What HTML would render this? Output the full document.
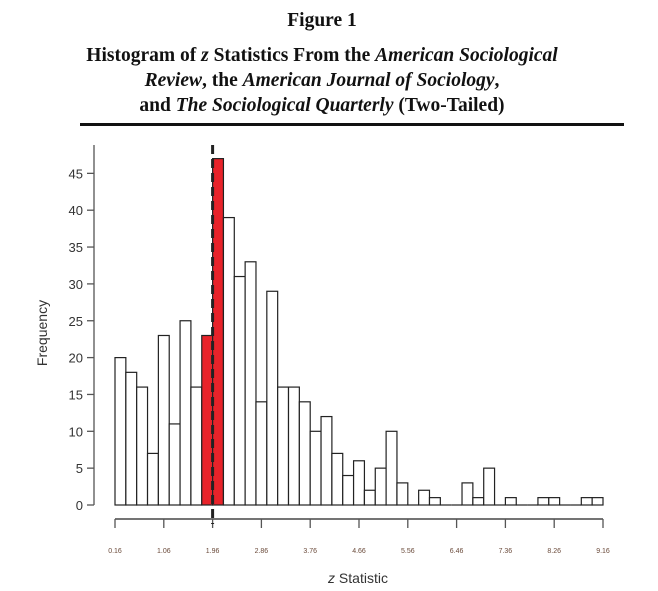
<!DOCTYPE html>
<html><head><meta charset="utf-8"><style>
body{margin:0;background:#fff;width:658px;height:591px;overflow:hidden;font-family:"Liberation Sans",sans-serif}
.t{position:absolute;left:0;width:644px;text-align:center;font-family:"Liberation Serif",serif;font-weight:bold;font-size:19.5px;color:#111;line-height:25px;white-space:nowrap}
</style></head><body>
<div class="t" style="top:8px">Figure 1</div>
<div class="t" style="top:43px">Histogram of <i>z</i> Statistics From the <i>American Sociological<br>Review</i>, the <i>American Journal of Sociology</i>,<br>and <i>The Sociological Quarterly</i> (Two-Tailed)</div>
<div style="position:absolute;left:80px;top:123px;width:544px;height:3px;background:#111"></div>
<svg id="c" width="658" height="591" style="position:absolute;left:0;top:0"></svg>
<script>
const counts=[20,18,16,7,23,11,25,16,23,47,39,31,33,14,29,16,16,14,10,12,7,4,6,2,5,10,3,0,2,1,0,0,3,1,5,0,1,0,0,1,1,0,0,1,1];
const highlighted=[8,9];
const yTicks=[0,5,10,15,20,25,30,35,40,45];
const xTickLabels=["0.16","1.06","1.96","2.86","3.76","4.66","5.56","6.46","7.36","8.26","9.16"];
const xMin=0.16, binWidth=0.2, criticalZ=1.96;
const svg=document.getElementById('c');
const NS='http://www.w3.org/2000/svg';
const X=v=>115+(v-0.16)*(488/9);
const Y=v=>505-v*7.37;
function mk(t,a){const e=document.createElementNS(NS,t);for(const k in a)e.setAttribute(k,a[k]);svg.appendChild(e);return e;}
counts.forEach((c,i)=>{
 const x0=X(xMin+i*binWidth),x1=X(xMin+(i+1)*binWidth);
 let r;
 if(c===0){r=mk('line',{x1:x0,y1:Y(0),x2:x1,y2:Y(0),stroke:'#222','stroke-width':1.2});}
 else r=mk('rect',{x:x0,y:Y(c),width:x1-x0,height:Y(0)-Y(c),fill:highlighted.includes(i)?'#e8232a':'#fff',stroke:'#222','stroke-width':1.2});
 
 
});
let a=mk('line',{x1:94,y1:145,x2:94,y2:505,stroke:'#555','stroke-width':1.3});


yTicks.forEach(v=>{
 mk('line',{x1:87,y1:Y(v),x2:94,y2:Y(v),stroke:'#555','stroke-width':1.3});
 const t=mk('text',{x:83,y:Y(v)+5,'text-anchor':'end','font-size':13,fill:'#333'});t.textContent=v;
 
 
});
let b=mk('line',{x1:X(0.16),y1:519,x2:X(9.16),y2:519,stroke:'#222','stroke-width':1.3});


xTickLabels.forEach(s=>{
 const v=parseFloat(s);
 mk('line',{x1:X(v),y1:519,x2:X(v),y2:528,stroke:'#555','stroke-width':1.3});
 const t=mk('text',{x:X(v),y:553,'text-anchor':'middle','font-size':7,fill:'#6a4a3a'});t.textContent=s;
 
 
});
let d=mk('line',{x1:X(criticalZ),y1:145,x2:X(criticalZ),y2:524,stroke:'#222','stroke-width':3,'stroke-dasharray':'9,5'});


let yl=mk('text',{x:47,y:333,transform:'rotate(-90 47 333)','text-anchor':'middle','font-size':14,fill:'#333'});yl.textContent='Frequency';


let xl=mk('text',{x:358,y:583,'text-anchor':'middle','font-size':14,fill:'#333'});
xl.innerHTML='<tspan font-style="italic">z</tspan> Statistic';


</script>
</body></html>
